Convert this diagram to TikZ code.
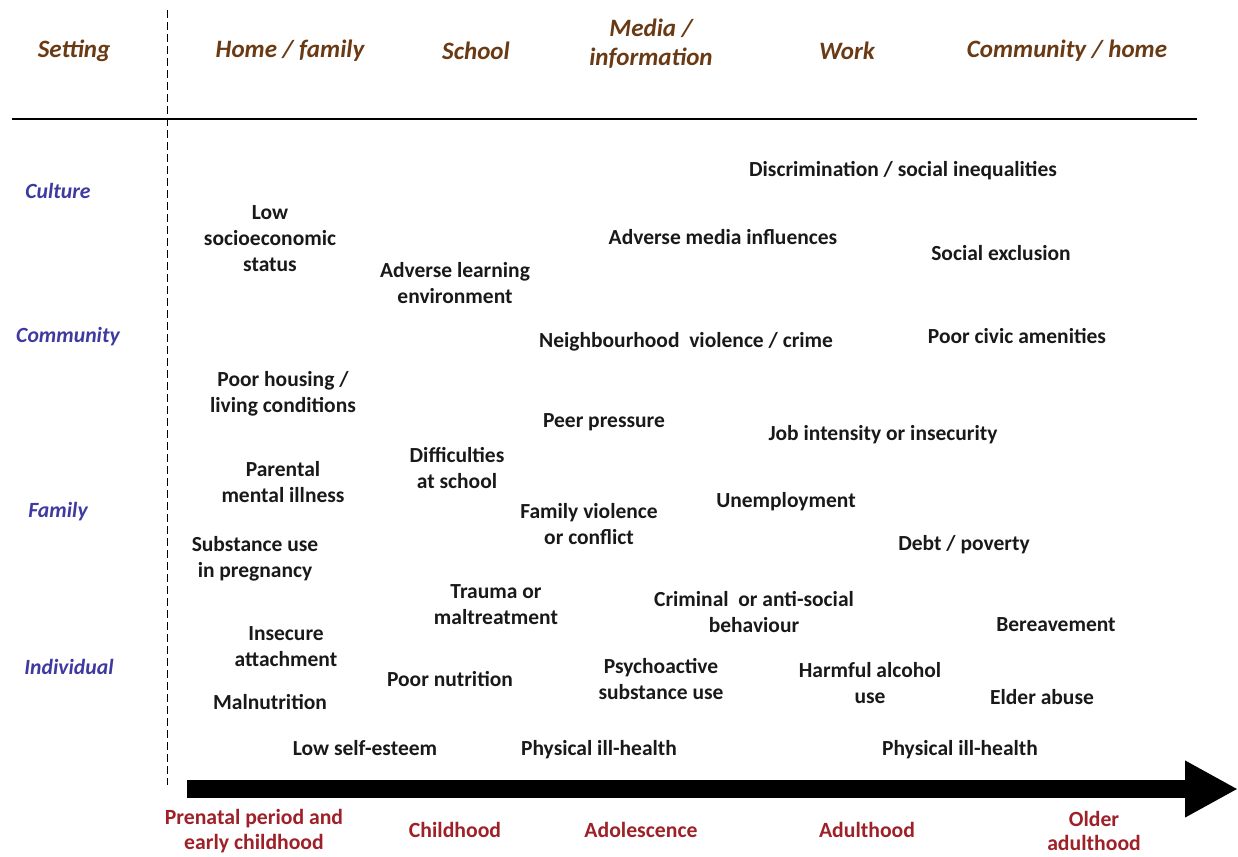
\documentclass[tikz,border=0pt]{standalone}
\usepackage{fontspec}
\setmainfont{Carlito}
\usetikzlibrary{arrows.meta}
\definecolor{hdr}{RGB}{105,58,20}
\definecolor{lvl}{RGB}{62,58,160}
\definecolor{age}{RGB}{158,32,40}
\definecolor{txt}{RGB}{25,25,25}
\tikzset{
  hd/.style={font=\bfseries\itshape\fontsize{25}{29}\selectfont, text=hdr, align=center, inner sep=0pt, yshift=-1.5pt},
  lv/.style={font=\bfseries\itshape\fontsize{21.7}{26}\selectfont, text=lvl, inner sep=0pt, yshift=-1.5pt},
  it/.style={font=\bfseries\fontsize{21.5}{26}\selectfont, text=txt, align=center, inner sep=0pt, yshift=-1.5pt},
  ag/.style={font=\bfseries\fontsize{21.7}{24.5}\selectfont, text=age, align=center, inner sep=0pt},
}
\begin{document}
\begin{tikzpicture}[x=1pt,y=-1pt]
\useasboundingbox (0,0) rectangle (1238,856);
% frame lines
\coordinate (dtop) at (167,10);
\coordinate (dbot) at (167,785);
\coordinate (hl) at (12,119);
\coordinate (hr) at (1197,119);
\draw[line width=1pt, dash pattern=on 8pt off 4pt] (dtop) -- (dbot);
\draw[line width=1.2pt] (hl) -- (hr);
% headers
\node[hd] (hset) at (74,49) {Setting};
\node[hd] (hhome) at (290,49) {Home / family};
\node[hd] (hsch) at (476,49) {School};
\node[hd] (hmed) at (651,42) {Media /\\information};
\node[hd] (hwork) at (847,49) {Work};
\node[hd] (hcom) at (1067,49) {Community / home};
% levels
\node[lv] (lcul) at (58,189) {Culture};
\node[lv] (lcom) at (68,335) {Community};
\node[lv] (lfam) at (58,510) {Family};
\node[lv] (lind) at (69,665) {Individual};
% items
\node[it] (n1) at (903,169) {Discrimination / social inequalities};
\node[it] (n2) at (270,237) {Low\\socioeconomic\\status};
\node[it] (n3) at (723,236) {Adverse media influences};
\node[it] (n4) at (1001,252) {Social exclusion};
\node[it] (n5) at (455,282) {Adverse learning\\environment};
\node[it] (n6) at (686,340) {Neighbourhood\ \ violence / crime};
\node[it] (n7) at (1017,335) {Poor civic amenities};
\node[it] (n8) at (283,392) {Poor housing /\\living conditions};
\node[it] (n9) at (604,421) {Peer pressure};
\node[it] (n10) at (883,433) {Job intensity or insecurity};
\node[it] (n11) at (283,481) {Parental\\mental illness};
\node[it] (n12) at (457,467) {Difficulties\\at school};
\node[it] (n13) at (589,523) {Family violence\\or conflict};
\node[it] (n14) at (786,500) {Unemployment};
\node[it] (n15) at (255,557) {Substance use\\in pregnancy};
\node[it] (n16) at (964,543) {Debt / poverty};
\node[it] (n17) at (496,603) {Trauma or\\maltreatment};
\node[it] (n18) at (754,611) {Criminal\ \ or anti-social\\behaviour};
\node[it] (n19) at (1056,623) {Bereavement};
\node[it] (n20) at (286,645) {Insecure\\attachment};
\node[it] (n21) at (450,678) {Poor nutrition};
\node[it] (n22) at (661,678) {Psychoactive\\substance use};
\node[it] (n23) at (870,682) {Harmful alcohol\\use};
\node[it] (n24) at (1042,696) {Elder abuse};
\node[it] (n25) at (270,701) {Malnutrition};
\node[it] (n26) at (365,747) {Low self-esteem};
\node[it] (n27) at (599,748) {Physical ill-health};
\node[it] (n28) at (960,748) {Physical ill-health};
% arrow
\coordinate (as) at (187,789);
\coordinate (ae) at (1238,789);
\draw[line width=18pt, -{Triangle[length=53pt,width=53pt]}] (as) -- (ae);
% ages
\node[ag] (a1) at (254,831) {Prenatal period and\\early childhood};
\node[ag] (a2) at (455,830) {Childhood};
\node[ag] (a3) at (641,830) {Adolescence};
\node[ag] (a4) at (867,830) {Adulthood};
\node[ag] (a5) at (1094,831) {Older\\adulthood};
\end{tikzpicture}
\end{document}
